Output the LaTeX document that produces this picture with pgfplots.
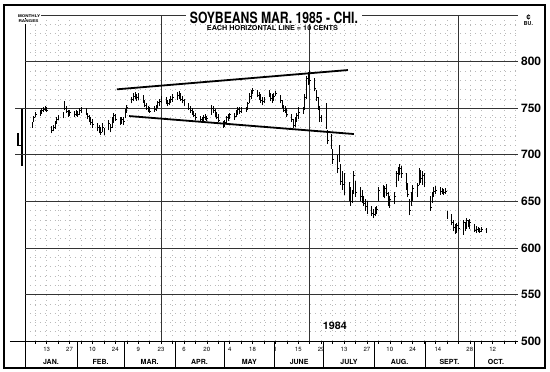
\documentclass[border=0pt]{standalone}
\usepackage{pgfplots}
\pgfplotsset{compat=1.18}
\usepackage{pgfplotstable}
\usepackage{fontspec}
\setmainfont{TeX Gyre Heros}

\pgfdeclareplotmark{closetick}{\pgfpathmoveto{\pgfpointorigin}\pgfpathlineto{\pgfpoint{1.3pt}{0pt}}\pgfusepathqstroke}

\pgfplotstableread{
d lo hi cl
3 729 735 733
4 735 742 740
5 740 746 744
8 742 748 746
9 744 750 748
10 746 751 749
11 747 752 750
12 746 751 748
15 723 731 726
16 725 732 730
17 728 736 734
18 733 740 738
19 737 743 741
22 739 746 744
23 748 758 750
24 745 752 747
25 741 748 745
26 742 748 746
29 740 747 743
30 742 748 746
31 741 747 744
32 743 750 748
33 745 751 748
36 743 750 745
37 738 745 741
38 735 743 738
39 732 740 735
40 729 738 733
43 725 734 729
44 723 732 727
45 721 730 724
46 724 734 730
47 721 729 724
50 726 737 734
51 724 733 730
52 729 740 737
53 734 745 742
54 736 744 738
57 732 740 735
58 733 741 738
59 732 740 736
60 739 749 747
61 745 753 751
64 755 762 760
65 758 766 763
66 760 767 765
67 758 765 762
68 759 766 763
71 756 764 758
72 751 759 753
73 748 755 750
74 746 752 748
75 745 751 747
78 746 752 749
79 747 753 751
80 750 758 756
81 752 760 757
82 755 763 760
85 754 762 757
86 752 759 755
87 753 760 757
88 755 763 760
89 757 765 762
92 759 767 764
93 760 768 766
94 758 766 760
95 755 763 758
96 752 760 755
99 748 756 750
100 745 752 748
101 743 750 746
102 740 747 742
103 737 745 740
106 735 742 738
107 734 741 736
108 736 743 740
109 737 744 741
110 736 742 739
113 743 753 750
114 745 752 748
115 741 749 744
116 738 746 740
117 735 744 737
120 729 736 731
121 730 737 735
122 734 742 740
123 736 744 741
124 738 745 743
127 737 745 741
128 740 748 746
129 743 751 749
130 744 751 747
131 745 751 749
134 746 751 748
135 748 757 755
136 755 766 763
137 760 770 768
138 765 772 769
141 762 769 764
142 759 767 761
143 756 765 758
144 753 762 757
145 755 762 759
148 762 770 767
149 758 766 761
150 756 765 760
151 758 766 763
152 763 768 766
155 755 764 758
156 750 759 752
157 746 753 748
158 745 752 748
159 741 750 743
162 735 744 738
163 729 738 732
164 730 740 735
165 735 745 742
166 738 751 746
169 744 751 748
170 748 765 762
171 760 785 782
172 775 789 784
173 776 791 780
176 768 782 771
177 758 769 762
178 748 762 752
179 735 752 740
180 735 743 738
183 728 756 732
184 712 726 716
186 706 722 710
187 690 706 695
190 680 700 686
191 692 710 705
192 668 690 672
193 662 683 668
194 657 680 662
197 650 671 655
198 645 665 650
199 648 662 658
200 658 683 678
201 655 672 660
204 650 665 655
205 648 662 652
206 645 656 648
207 640 652 645
208 636 650 640
211 634 645 637
212 632 642 636
213 634 644 640
214 636 645 642
215 650 665 662
218 655 668 660
219 653 666 664
220 656 669 659
221 645 660 648
222 643 656 652
225 647 660 655
226 665 683 680
227 672 687 684
228 678 690 686
229 675 688 680
232 662 680 666
233 655 670 658
234 635 652 640
235 645 660 656
236 650 667 664
239 655 670 667
240 668 686 682
241 670 684 675
242 668 682 678
243 665 680 670
247 640 656 644
248 648 660 657
249 655 665 661
250 658 666 662
253 657 665 661
254 658 664 661
255 657 663 660
256 658 664 661
257 631 640 634
260 624 636 628
261 618 630 622
262 615 626 620
263 616 627 624
264 618 628 621
267 614 630 628
268 618 628 621
269 620 632 630
270 622 630 624
271 620 631 628
274 617 626 619
275 616 623 620
276 617 622 619
277 616 621 618
278 617 622 620
281 616 621 618
}\bars

\begin{document}
\begin{tikzpicture}
\useasboundingbox (0pt,0pt) rectangle (550pt,372pt);
\fill[white] (0pt,0pt) rectangle (550pt,372pt);
\draw[black, line width=2.2pt] (4pt,4pt) rectangle (545pt,367pt);
\begin{axis}[
  at={(25pt,31pt)}, anchor=south west,
  scale only axis, width=493pt, height=326pt,
  xmin=-1.29, xmax=300.5, ymin=500, ymax=850,
  clip=false,
  axis x line*=bottom, axis y line*=left,
  axis line style={black, line width=0.7pt},
  xtick={5,12,...,299}, xticklabels={},
  tick align=outside, major tick length=3pt,
  xtick style={black, line width=0.5pt},
  ytick={500,510,...,850}, yticklabels={},
  ytick style={draw=none},
  grid=major,
  major grid style={gray!55, line width=0.45pt, dash pattern=on 0.5pt off 4.5pt},
  extra x ticks={82,173,264}, extra x tick labels={},
  extra x tick style={major grid style={black!80, line width=0.6pt, solid}},
  extra y ticks={550,600,...,850}, extra y tick labels={},
  extra y tick style={major grid style={black!80, line width=0.6pt, solid}},
]
% monthly range bars
\addplot[black, line width=1.6pt] coordinates {(-3.1,688) (-3.1,749)};
\addplot[black, line width=1.1pt] coordinates {(-5.6,723) (-5.6,710) (-3.1,710)};
% daily bars (low to high)
\addplot[draw=none, no markers,
  error bars/.cd, y dir=plus, y explicit, error mark=none,
  error bar style={draw=black, solid, line width=0.75pt}]
  table[x=d, y=lo, y error expr=\thisrow{hi}-\thisrow{lo}] {\bars};
% closing ticks
\addplot[black, only marks, mark=closetick, mark options={line width=0.45pt}]
  table[x=d, y=cl] {\bars};
% trend lines
\addplot[black, line width=1.8pt] coordinates {(55.0,770.2) (196.4,790.9)};
\addplot[black, line width=1.8pt] coordinates {(62.4,741.5) (200,722.2)};
% extended lines at left
\draw[black!80, line width=0.6pt] (axis cs:-7.4,750) -- (axis cs:-1.29,750);
\draw[black!80, line width=0.6pt] (axis cs:-7.4,700) -- (axis cs:-1.29,700);
\draw[black, line width=0.7pt] (axis cs:-10.5,500) -- (axis cs:-1.29,500);
% month separators
\foreach \m in {-1.29,30.5,59.5,90.5,120.5,151.5,181.5,212.5,243.5,273.5}{
  \edef\tmp{\noexpand\draw[black, line width=0.7pt] (axis cs:\m,500) -- (axis cs:\m,472);}\tmp
}
% right price labels
\pgfplotsinvokeforeach{500,550,600,650,700,750,800}{
  \node[anchor=west, inner sep=0pt] at (axis cs:302.3,#1) {\resizebox{20pt}{8.5pt}{\bfseries #1}};
}
% day labels
\begin{scope}[every node/.style={font=\fontsize{6}{6}\selectfont, inner sep=0pt}]
\node at (axis cs:12,491.4) {13};
\node at (axis cs:26,491.4) {27};
\node at (axis cs:40,491.4) {10};
\node at (axis cs:54,491.4) {24};
\node at (axis cs:68,491.4) {9};
\node at (axis cs:82,491.4) {23};
\node at (axis cs:96,491.4) {6};
\node at (axis cs:110,491.4) {20};
\node at (axis cs:124,491.4) {4};
\node at (axis cs:138,491.4) {18};
\node at (axis cs:152,491.4) {1};
\node at (axis cs:166,491.4) {15};
\node at (axis cs:180,491.4) {29};
\node at (axis cs:194,491.4) {13};
\node at (axis cs:208,491.4) {27};
\node at (axis cs:222,491.4) {10};
\node at (axis cs:236,491.4) {24};
\node at (axis cs:251.5,491.4) {14};
\node at (axis cs:271,491.4) {28};
\node at (axis cs:285,491.4) {12};
\end{scope}
% month labels
\begin{scope}[every node/.style={font=\fontsize{7}{7}\selectfont\bfseries, inner sep=0pt}]
\node at (axis cs:14.6,477.4) {JAN.};
\node at (axis cs:45,477.4) {FEB.};
\node at (axis cs:75,477.4) {MAR.};
\node at (axis cs:105.5,477.4) {APR.};
\node at (axis cs:136,477.4) {MAY};
\node at (axis cs:166.5,477.4) {JUNE};
\node at (axis cs:197,477.4) {JULY};
\node at (axis cs:228,477.4) {AUG.};
\node at (axis cs:258.5,477.4) {SEPT.};
\node at (axis cs:287,477.4) {OCT.};
\end{scope}
% titles
\node[fill=white, inner xsep=4pt, inner ysep=1pt] at (axis cs:151.1,847.3)
  {\resizebox{168pt}{11.5pt}{\bfseries SOYBEANS MAR. 1985 - CHI.}};
\node[inner sep=0pt] at (axis cs:150.2,836)
  {\resizebox{131pt}{5pt}{\bfseries EACH HORIZONTAL LINE = 10 CENTS}};
\node[fill=white, inner sep=1pt] at (axis cs:1.2,849.3)
  {\resizebox{22pt}{2.8pt}{\bfseries MONTHLY}};
\node[fill=white, inner sep=1pt] at (axis cs:0.9,843.0)
  {\resizebox{20pt}{2.8pt}{\bfseries RANGES}};
\node[inner sep=0pt] at (axis cs:306.9,847.3) {\resizebox{!}{5pt}{\bfseries ¢}};
\node[inner sep=0pt] at (axis cs:306.9,840.3) {\resizebox{9pt}{4pt}{\bfseries BU.}};
\node[inner sep=0pt] at (axis cs:188.4,516.6) {\resizebox{24pt}{7.5pt}{\bfseries 1984}};
\end{axis}
\end{tikzpicture}
\end{document}
